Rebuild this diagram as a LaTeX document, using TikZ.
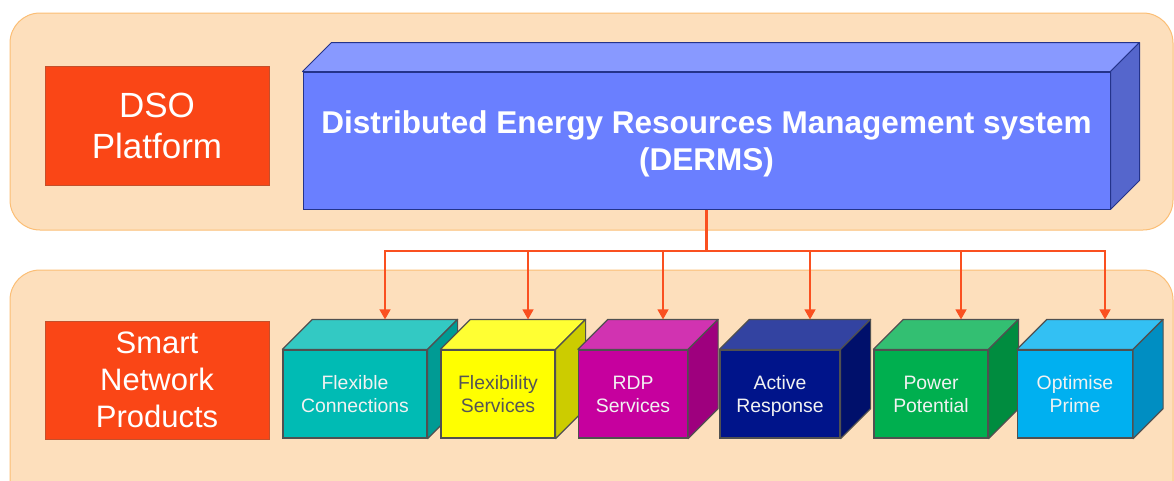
\documentclass[tikz,border=0pt]{standalone}
\usepackage{fontspec}
\setmainfont{Liberation Sans}
\usetikzlibrary{arrows.meta,calc}
\definecolor{panelfill}{HTML}{FDDFBC}
\definecolor{paneldraw}{HTML}{FBBE75}
\definecolor{dso}{HTML}{FA4616}
\definecolor{dsodraw}{HTML}{C4502B}
\definecolor{dfront}{HTML}{6A7FFF}
\definecolor{dtop}{HTML}{8899FF}
\definecolor{dside}{HTML}{5566CC}
\definecolor{ddraw}{HTML}{24338A}
\definecolor{conn}{HTML}{FA5020}
\definecolor{cubeline}{HTML}{505050}
\definecolor{tealF}{HTML}{00BBB4}\definecolor{tealT}{HTML}{33C9C3}\definecolor{tealS}{HTML}{009B94}
\definecolor{yelF}{HTML}{FFFF00}\definecolor{yelT}{HTML}{FFFF33}\definecolor{yelS}{HTML}{CCCC00}
\definecolor{magF}{HTML}{C6009E}\definecolor{magT}{HTML}{D133B1}\definecolor{magS}{HTML}{9E007E}
\definecolor{navF}{HTML}{00148A}\definecolor{navT}{HTML}{3343A1}\definecolor{navS}{HTML}{00106B}
\definecolor{grnF}{HTML}{00AF4F}\definecolor{grnT}{HTML}{33BF72}\definecolor{grnS}{HTML}{008C3F}
\definecolor{cyaF}{HTML}{00B0F0}\definecolor{cyaT}{HTML}{33C0F3}\definecolor{cyaS}{HTML}{008EC2}
\definecolor{cubetextlight}{HTML}{F2F2F2}
\definecolor{cubetextdark}{HTML}{555555}
\newcommand\mycube[8]{%
  \node[cubefront,fill=#4,text=#7,minimum width=#3] (#1) at (#2,394) {#8};
  \draw[cubeedge,fill=#5] (#1.north west) -- ($(#1.north west)+(30,-30)$) -- ($(#1.north east)+(30,-30)$) -- (#1.north east) -- cycle;
  \draw[cubeedge,fill=#6] (#1.north east) -- ($(#1.north east)+(30,-30)$) -- ($(#1.south east)+(30,-30)$) -- (#1.south east) -- cycle;
  \coordinate (#1t) at ($(#1.north)+(30,-30)$);
}
\begin{document}
\begin{tikzpicture}[x=1pt,y=-1pt,
  panel/.style={fill=panelfill,draw=paneldraw,line width=1pt,rounded corners=30pt},
  label/.style={fill=dso,draw=dsodraw,line width=0.8pt,text=white,align=center,inner sep=0pt,minimum width=224pt,text depth=0pt},
  cubefront/.style={draw=cubeline,line width=1.2pt,align=center,inner sep=0pt,minimum height=88pt,text depth=0pt,font=\fontsize{19.4}{23}\selectfont},
  cubeedge/.style={draw=cubeline,line width=1.2pt,line join=round},
  dermsedge/.style={draw=ddraw,line width=1pt,line join=round},
  arr/.style={draw=conn,line width=1.5pt,-{Triangle[length=10pt,width=11pt]}},
  trunk/.style={draw=conn,line width=3pt}]
\useasboundingbox (0,0) rectangle (1174,480);
\clip (0,0) rectangle (1174,480);
\draw[panel] (10,13) rectangle (1173,230);
\draw[panel] (10,270) rectangle (1173,520);
\node[label,minimum height=119pt,font=\fontsize{35}{41}\selectfont] (dsoplat) at (157,125.5) {DSO\\Platform};
\node[label,minimum height=118pt,font=\fontsize{31}{37}\selectfont] (snp) at (157,380) {Smart\\Network\\Products};
% DERMS cuboid
\node[fill=dfront,draw=ddraw,line width=1pt,minimum width=807pt,minimum height=137pt,inner sep=0pt,align=center,text=white,text depth=0pt,font=\bfseries\fontsize{31.5}{37}\selectfont] (derms) at (706.5,140.5) {Distributed Energy Resources Management system\\(DERMS)};
\draw[dermsedge,fill=dtop] (derms.north west) -- ($(derms.north west)+(29,-29)$) -- ($(derms.north east)+(29,-29)$) -- (derms.north east) -- cycle;
\draw[dermsedge,fill=dside] (derms.north east) -- ($(derms.north east)+(29,-29)$) -- ($(derms.south east)+(29,-29)$) -- (derms.south east) -- cycle;
% cubes
\mycube{c1}{355}{144pt}{tealF}{tealT}{tealS}{cubetextlight}{Flexible\\Connections}
\mycube{c2}{498}{114pt}{yelF}{yelT}{yelS}{cubetextdark}{Flexibility\\Services}
\mycube{c3}{633}{109pt}{magF}{magT}{magS}{cubetextlight}{RDP\\Services}
\mycube{c4}{780}{120pt}{navF}{navT}{navS}{cubetextlight}{Active\\Response}
\mycube{c5}{931}{114pt}{grnF}{grnT}{grnS}{cubetextlight}{Power\\Potential}
\mycube{c6}{1075}{115pt}{cyaF}{cyaT}{cyaS}{cubetextlight}{Optimise\\Prime}
% connectors
\coordinate (busy) at (0,251);
\coordinate (hub) at (derms.south |- busy);
\foreach \c in {c1,c2,c3,c4,c5,c6}{\draw[arr] (hub) -| (\c t);}
\draw[trunk] (derms.south) -- (hub);
\end{tikzpicture}
\end{document}
